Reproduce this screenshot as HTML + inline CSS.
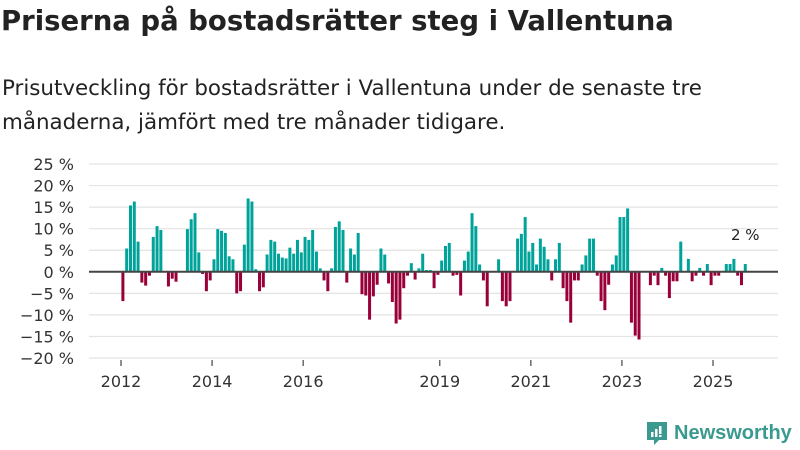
<!DOCTYPE html>
<html><head><meta charset="utf-8"><style>
body{margin:0;width:800px;height:450px;background:#fff;overflow:hidden;font-family:"DejaVu Sans",sans-serif;color:#222}
#title{position:absolute;left:1px;top:5px;font-size:27.5px;font-weight:bold;margin:0;letter-spacing:0;white-space:nowrap}
#sub{position:absolute;left:2px;top:72px;font-size:21.4px;line-height:34px;margin:0;color:#222;white-space:nowrap}
svg{position:absolute;left:0;top:0}
#logo{position:absolute;left:645px;top:420px;font-size:20px;font-weight:bold;color:#3a9a8f;display:flex;align-items:center;gap:5px;font-family:"Liberation Sans",sans-serif}
</style></head><body>
<h1 id="title">Priserna på bostadsrätter steg i Vallentuna</h1>
<p id="sub">Prisutveckling för bostadsrätter i Vallentuna under de senaste tre<br>månaderna, jämfört med tre månader tidigare.</p>
<svg id="chart" width="800" height="450"></svg>
<div id="logo"><svg width="24" height="26" style="position:static"><path d="M2 2h20v18h-8l-5 5v-5H2z" fill="#3a9a8f"/><rect x="6" y="12" width="2.5" height="5" fill="#fff"/><rect x="10" y="9" width="2.5" height="8" fill="#fff"/><rect x="14" y="6" width="2.5" height="8" fill="#fff"/><rect x="14" y="15" width="2.5" height="2" fill="#fff"/></svg><span>Newsworthy</span></div>
<script>
const values=[-6.8,5.4,15.4,16.3,7,-2.5,-3.2,-0.9,8.1,10.6,9.7,0,-3.4,-1.6,-2.3,0,0,9.9,12.2,13.6,4.5,-0.5,-4.5,-2,2.9,9.9,9.5,9,3.6,2.9,-5,-4.5,6.3,17,16.3,0.6,-4.5,-3.6,4,7.4,7,4.2,3.3,3.1,5.6,4.2,7.4,4.5,8.1,7.4,
9.7,4.7,0.8,-2,-4.5,0.8,10.4,11.7,9.7,-2.5,5.4,4,9,-5.2,-5.5,-11.1,-5.7,-3,5.4,4,-2.7,-7,-12,-11.1,-3.8,-0.9,2,-1.8,0.8,4.2,0.4,0.4,-3.8,-0.7,2.6,6,6.7,-0.9,-0.7,-5.5,2.6,4.7,13.6,10.6,1.7,-2,-8,0,0,2.9,
-6.8,-8,-6.8,0,7.7,8.8,12.7,4.7,6.7,1.7,7.7,5.8,2.9,-2,2.9,6.7,-3.8,-6.8,-11.8,-2,-2,1.7,3.8,7.7,7.7,-0.9,-6.8,-8.9,-3,1.7,3.8,12.7,12.7,14.7,-11.8,-14.8,-15.7,0,0,
-3.1,-0.9,-3.1,0.9,-0.9,-6.1,-2.2,-2.2,7,0,3,-2.2,-0.9,0.9,-0.9,1.8,-3.1,-0.9,-0.9,0,1.8,1.8,3,-0.9,-3.1,1.8];
const startYear=2012;
const yTicks=[25,20,15,10,5,0,-5,-10,-15,-20];
const xTicks=[2012,2014,2016,2019,2021,2023,2025];
const lastLabel="2 %";
const NS="http://www.w3.org/2000/svg";
const svg=document.getElementById('chart');
function y(v){return 271.8-v*4.311;}
function x(t){return 121+(t-2012)*45.54;}
function mk(tag,attrs,parent){const e=document.createElementNS(NS,tag);for(const k in attrs)e.setAttribute(k,attrs[k]);(parent||svg).appendChild(e);return e;}
yTicks.forEach(v=>{
  if(v!==0){const g=mk('line',{x1:89,x2:778,y1:y(v),y2:y(v),stroke:'#e3e3e3','stroke-width':1.2});
  
  }
  const t=mk('text',{x:74,y:y(v)+6,'text-anchor':'end','font-size':16,fill:'#333','font-family':'DejaVu Sans, sans-serif'});
  t.textContent=(v<0?'\u2212'+(-v):v)+' %';
  
  
});
xTicks.forEach(yr=>{
  const l=mk('line',{x1:x(yr),x2:x(yr),y1:360,y2:366,stroke:'#444','stroke-width':1.2});
  
  
  const t=mk('text',{x:x(yr),y:387,'text-anchor':'middle','font-size':16,fill:'#333','font-family':'DejaVu Sans, sans-serif'});
  t.textContent=yr;
  
  
});
values.forEach((v,i)=>{
  if(v===0)return;
  const cx=x(startYear+(i+0.5)/12);
  const b=mk('rect',{x:cx-1.5,width:3,y:Math.min(y(v),y(0)),height:Math.abs(y(v)-y(0)),fill:v>0?'#00a39a':'#990039'});
  
  
});
const z=mk('line',{x1:89,x2:778,y1:y(0),y2:y(0),stroke:'#444','stroke-width':2});


const li=values.length-1;
const lt=mk('text',{x:x(startYear+(li+0.5)/12),y:y(values[li])-24,'text-anchor':'middle','font-size':15,fill:'#222','font-family':'DejaVu Sans, sans-serif'});
lt.textContent=lastLabel;


</script>
</body></html>
